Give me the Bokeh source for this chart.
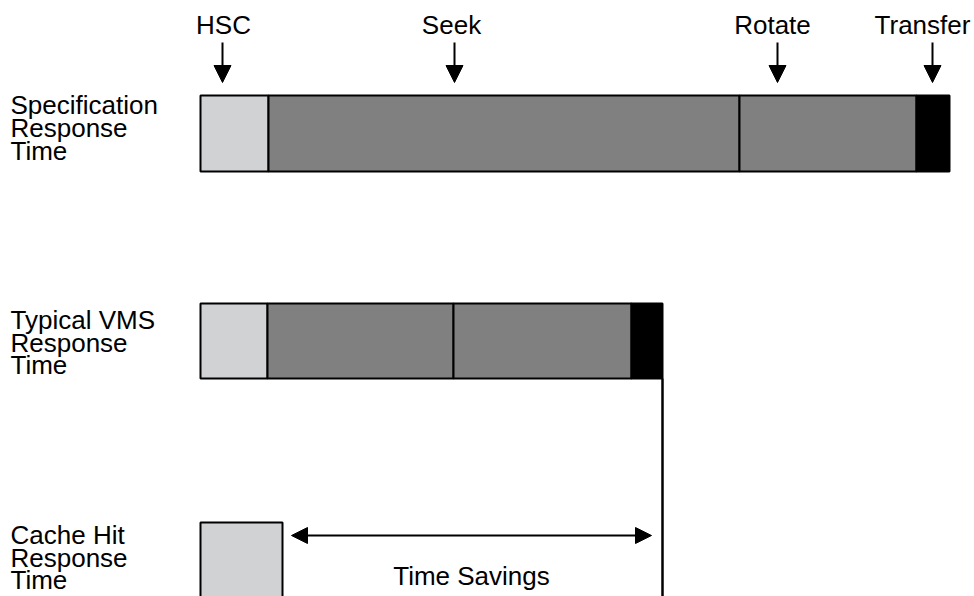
from bokeh.plotting import figure
from bokeh.models import Range1d, Arrow, NormalHead, ColumnDataSource
from bokeh.core.properties import value
from bokeh.embed import file_html
from bokeh.resources import INLINE

# ---- data ----
categories = ["Specification\nResponse\nTime",
              "Typical VMS\nResponse\nTime",
              "Cache Hit\nResponse\nTime"]
components = ["HSC", "Seek", "Rotate", "Transfer"]
spec_times = [68, 471, 177, 33]
typical_times = [67, 186, 178, 31]
cache_times = [82, 0, 0, 0]
savings_label = "Time Savings"

# ---- layout / style ----
W, H = 974, 596
OX, OY = 0, 0
BAR_X0 = 200
FONT = "Liberation Sans"
FS = "26px"
TY = -8  # text vertical correction
colors = ["#d1d2d4", "#808080", "#808080", "#000000"]
rows = [(95, 171), (303, 378), (522, 600)]
label_baselines = [[112, 135, 158], [327, 350, 372], [542, 565, 587]]
label_x = 10 - BAR_X0
comp_label_x = [223 - BAR_X0, 451 - BAR_X0, 772 - BAR_X0, 922 - BAR_X0]
comp_arrow_x = [222 - BAR_X0, 454 - BAR_X0, 777 - BAR_X0, 932 - BAR_X0]

p = figure(width=W, height=H, output_backend="svg", toolbar_location=None,
           x_range=Range1d(OX - BAR_X0, OX - BAR_X0 + W),
           y_range=Range1d(OY + H, OY),
           min_border=0, min_border_left=0, min_border_right=0,
           min_border_top=0, min_border_bottom=0)
p.axis.visible = False
p.grid.visible = False
p.outline_line_color = None
p.background_fill_color = "white"
p.border_fill_color = "white"

series = [spec_times, typical_times, cache_times]
for (top, bottom), vals in zip(rows, series):
    left = 0
    lefts, rights, cols = [], [], []
    for v, c in zip(vals, colors):
        if v > 0:
            lefts.append(left)
            rights.append(left + v)
            cols.append(c)
        left += v
    src = ColumnDataSource(dict(left=lefts, right=rights, color=cols,
                                top=[top] * len(lefts), bottom=[bottom] * len(lefts)))
    p.quad(left="left", right="right", top="top", bottom="bottom", source=src,
           fill_color="color", line_color="black", line_width=2)

# category labels
for cat, bls in zip(categories, label_baselines):
    lines = cat.split("\n")
    p.text(x=[label_x] * len(lines), y=[b + TY for b in bls[:len(lines)]], text=lines,
           text_font=value(FONT), text_font_size=FS, text_align="left",
           text_baseline="alphabetic", text_color="black")

# component labels and arrows
p.text(x=comp_label_x, y=[32 + TY] * 4, text=components, text_font=value(FONT),
       text_font_size=FS, text_align="center", text_baseline="alphabetic",
       text_color="black")
for ax in comp_arrow_x:
    p.add_layout(Arrow(x_start=ax, y_start=42, x_end=ax, y_end=82,
                       line_width=2, line_color="black",
                       end=NormalHead(size=17, fill_color="black", line_color="black")))

# time savings
typical_end = sum(typical_times)
cache_end = sum(cache_times)
p.segment(x0=[typical_end], y0=[rows[1][1]], x1=[typical_end], y1=[600],
          line_color="black", line_width=2.5)
a0, a1 = cache_end + 9, typical_end - 11
p.add_layout(Arrow(x_start=a0, y_start=535, x_end=a1, y_end=535,
                   line_width=2, line_color="black",
                   start=NormalHead(size=16, fill_color="black", line_color="black"),
                   end=NormalHead(size=16, fill_color="black", line_color="black")))
p.text(x=[(a0 + a1) / 2], y=[583 + TY], text=[savings_label], text_font=value(FONT),
       text_font_size=FS, text_align="center", text_baseline="alphabetic",
       text_color="black")

open("out.html", "w").write(file_html(p, INLINE))
